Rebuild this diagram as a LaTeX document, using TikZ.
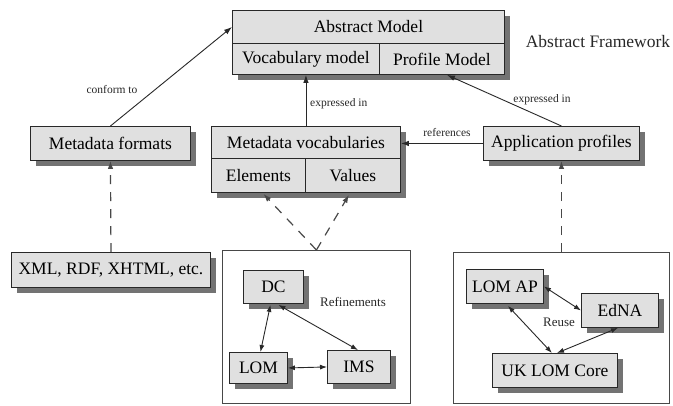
\documentclass[tikz,border=0pt]{standalone}
\usepackage{fontspec}
\setmainfont{Liberation Serif}
\usetikzlibrary{arrows.meta,shadows,calc}
\definecolor{boxfill}{RGB}{224,224,224}
\definecolor{shadowc}{RGB}{115,115,115}
\definecolor{linec}{RGB}{40,40,40}
\begin{document}
\begin{tikzpicture}[x=1pt,y=-1pt,
  box/.style={draw=linec, line width=0.9pt, fill=boxfill, inner sep=0pt, anchor=north west,
    font=\fontsize{17.5}{18}\selectfont,
    drop shadow={shadow xshift=6pt, shadow yshift=-6pt, fill=shadowc, opacity=1}},
  container/.style={draw=linec!85, line width=0.9pt, fill=white, inner sep=0pt, anchor=north west},
  lbl/.style={font=\fontsize{11.5}{12}\selectfont, text=linec, inner sep=1pt},
  inlbl/.style={font=\fontsize{13}{14}\selectfont, text=linec, inner sep=1pt},
  conn/.style={draw=linec, line width=0.9pt, -{Latex[length=8pt,width=5.5pt]}},
  biconn/.style={draw=linec, line width=0.9pt, {Latex[length=7pt,width=5pt]}-{Latex[length=7pt,width=5pt]}},
  dashconn/.style={draw=linec!85, line width=1.2pt, dash pattern=on 9pt off 8pt, -{Latex[length=8pt,width=5.5pt]}}
]
\useasboundingbox (0,0) rectangle (673,405);
\fill[white] (0,0) rectangle (673,405);

% containers
\node[container, minimum width=188pt, minimum height=153pt] (cont1) at (222,250) {};
\node[container, minimum width=216pt, minimum height=151pt] (cont2) at (453,252) {};

% abstract model
\node[box, minimum width=272pt, minimum height=33pt] (abs) at (232,10) {Abstract Model};
\node[box, minimum width=147pt, minimum height=31pt] (vocm) at (232,43) {Vocabulary model};
\node[box, minimum width=125pt, minimum height=31pt] (prof) at (379,43) {Profile Model};
\node[font=\fontsize{17.5}{18}\selectfont, text=linec] (af) at (598,42) {Abstract Framework};

% middle row
\node[box, minimum width=160pt, minimum height=34pt] (fmt) at (30,126) {Metadata formats};
\node[box, minimum width=189pt, minimum height=32pt] (mv) at (211,126) {Metadata vocabularies};
\node[box, minimum width=94pt, minimum height=34pt] (elem) at (211,158) {Elements};
\node[box, minimum width=95pt, minimum height=34pt] (vals) at (305,158) {Values};
\node[box, minimum width=156pt, minimum height=34pt] (ap) at (483,126) {Application profiles};

% bottom
\node[box, minimum width=199pt, minimum height=35pt] (xml) at (11,252) {XML, RDF, XHTML, etc.};
\node[box, minimum width=60pt, minimum height=33pt] (dc) at (243,270) {DC};
\node[box, minimum width=58pt, minimum height=31pt] (lom) at (229,352) {LOM};
\node[box, minimum width=63pt, minimum height=33pt] (ims) at (327,350) {IMS};
\node[inlbl] (refl) at (353,302) {Refinements};

\node[box, minimum width=77pt, minimum height=34pt] (lomap) at (466,269) {LOM AP};
\node[box, minimum width=77pt, minimum height=34pt] (edna) at (581,293) {EdNA};
\node[box, minimum width=125pt, minimum height=34pt] (uk) at (492,353) {UK LOM Core};
\node[inlbl] (reuse) at (559,322) {Reuse};

% connectors
\draw[conn] (fmt.north) -- (abs.west);
\node[lbl] (lconf) at (112,90) {conform to};
\draw[conn] (mv.north) -- (mv.north |- vocm.south);
\node[lbl, anchor=west] (lexp1) at (309,104) {expressed in};
\draw[conn] (ap.north) -- ($(prof.south)+(5,0)$);
\node[lbl] (lexp2) at (542,100) {expressed in};
\draw[conn] (ap.west) -- (ap.west -| mv.east);
\node[lbl] (lref) at (447,133) {references};

\draw[dashconn] (xml.north) -- (fmt.south);
\draw[dashconn] (cont1.north) -- ($(elem.south)+(5,1)$);
\draw[dashconn] (cont1.north) -- ($(vals.south)+(-4,2)$);
\draw[dashconn] (cont2.north) -- (ap.south);

\draw[biconn] ($(dc.south)+(-3,1)$) -- ($(lom.north)+(2,0)$);
\draw[biconn] ($(dc.south)+(5,1)$) -- ($(ims.north)+(-1,0)$);
\draw[biconn] (lom.east) -- (ims.west);

\draw[biconn] (lomap.east) -- (edna.west);
\draw[biconn] ($(lomap.south)+(3,2)$) -- ($(uk.north)+(-3,0)$);
\draw[biconn] ($(edna.south)+(-2,0)$) -- ($(uk.north)+(2,0)$);
\end{tikzpicture}
\end{document}
